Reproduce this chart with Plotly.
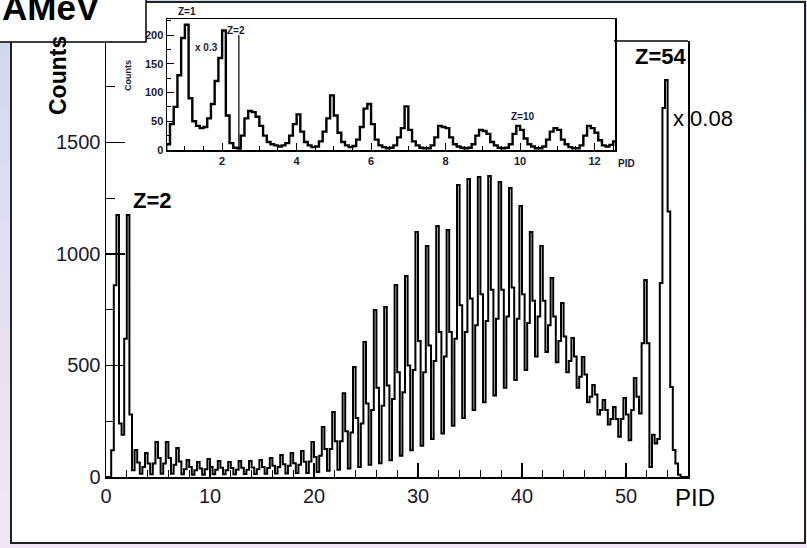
import plotly.graph_objects as go

W, H = 807, 548

# ---------------- data ----------------
main_bin_start = 0.0
main_bin_width = 0.25
main_counts = [
    0, 0, 120, 860,          # 0-1
    1175, 240, 190, 620,     # 1-2
    1175, 280, 30, 121,      # 2-3
    65, 15, 45, 108,         # 3-4
    60, 12, 60, 157,         # 4-5
    85, 15, 60, 157,         # 5-6
    85, 15, 55, 130,         # 6-7
    70, 12, 35, 76,          # 7-8
    45, 10, 30, 67,          # 8-9
    38, 10, 35, 81,          # 9-10
    45, 12, 32, 72,          # 10-11
    42, 12, 30, 67,          # 11-12
    40, 12, 32, 72,          # 12-13
    42, 14, 33, 72,          # 13-14
    43, 14, 35, 76,          # 14-15
    45, 15, 40, 85,          # 15-16
    50, 16, 45, 99,          # 16-17
    57, 16, 50, 108,         # 17-18
    62, 18, 55, 117,         # 18-19
    68, 18, 70, 157,         # 19-20
    90, 22, 95, 224,         # 20-21
    125, 28, 125, 291,       # 21-22
    160, 32, 160, 376,       # 22-23
    205, 38, 200, 493,       # 23-24
    265, 45, 240, 605,       # 24-25
    330, 55, 300, 749,       # 25-26
    400, 62, 320, 762,       # 26-27
    410, 75, 350, 861,       # 27-28
    470, 95, 380, 901,       # 28-29
    500, 120, 480, 1099,     # 29-30
    610, 140, 470, 1036,     # 30-31
    590, 170, 520, 1126,     # 31-32
    650, 195, 540, 1108,     # 32-33
    650, 230, 620, 1309,     # 33-34
    770, 265, 650, 1336,     # 34-35
    800, 300, 680, 1345,     # 35-36
    820, 335, 700, 1350,     # 36-37
    840, 365, 710, 1323,     # 37-38
    840, 400, 720, 1296,     # 38-39
    850, 435, 710, 1215,     # 39-40
    820, 480, 690, 1099,     # 40-41
    790, 540, 720, 1036,     # 41-42
    790, 560, 680, 892,      # 42-43
    720, 515, 610, 780,      # 43-44
    630, 470, 520, 623,      # 44-45
    540, 400, 450, 538,      # 45-46
    460, 335, 360, 413,      # 46-47
    370, 280, 300, 345,      # 47-48
    300, 235, 260, 314,      # 48-49
    260, 180, 260, 354,      # 49-50
    280, 165, 300, 444,      # 50-51
    360, 285, 600, 883,      # 51-52
    600, 45, 190, 150,       # 52-53
    170, 870, 1655, 1780,    # 53-54
    1190, 404, 121, 60,      # 54-55
    10, 0, 0, 0,             # 55-56
]

inset_bin_start = 0.5
inset_bin_width = 0.1
inset_counts = [
    10, 45, 75, 130, 195, 218, 90, 50, 42, 38,      # 0.5-1.4
    40, 55, 80, 120, 160, 208, 60, 12, 4, 3,        # 1.5-2.4
    25, 55, 68, 66, 58, 42, 25, 14, 10, 8,          # 2.5-3.4
    6, 8, 12, 25, 45, 62, 32, 14, 8, 5,             # 3.5-4.4
    6, 15, 32, 55, 95, 60, 30, 14, 8, 5,            # 4.5-5.4
    7, 18, 40, 72, 80, 45, 18, 8, 5, 3,             # 5.5-6.4
    4, 8, 22, 38, 76, 35, 15, 8, 4, 3,              # 6.5-7.4
    3, 8, 22, 42, 40, 38, 22, 10, 6, 4,             # 7.5-8.4
    3, 4, 10, 25, 35, 33, 28, 14, 8, 4,             # 8.5-9.4
    3, 4, 10, 28, 42, 35, 20, 10, 6, 3,             # 9.5-10.4
    3, 6, 18, 32, 38, 35, 18, 10, 5, 3,             # 10.5-11.4
    3, 8, 25, 42, 38, 30, 17, 8, 6, 9,              # 11.5-12.4
    15,                                             # 12.5
]

main_x_ticks = [0, 10, 20, 30, 40, 50]
main_y_ticks = [0, 500, 1000, 1500]
inset_x_ticks = [2, 4, 6, 8, 10, 12]
inset_y_ticks = [0, 50, 100, 150, 200]
inset_cut_pid = 2.45
inset_cut_top = 200


def step_xy(start, width, counts):
    xs = [start] + [start + i * width for i in range(len(counts) + 1)]
    ys = [0] + list(counts) + [counts[-1]]
    return xs, ys


def px(x):
    return x / W


def py(y):
    return 1 - y / H


FONT = "Liberation Sans"
LBL = "#1a1a30"

fig = go.Figure()

mx, my = step_xy(main_bin_start, main_bin_width, main_counts)
fig.add_trace(go.Scatter(x=mx, y=my, mode="lines", line=dict(shape="hv", color="black", width=2.0),
                         xaxis="x", yaxis="y", showlegend=False, hoverinfo="skip"))

ix, iy = step_xy(inset_bin_start, inset_bin_width, inset_counts)
fig.add_trace(go.Scatter(x=ix, y=iy, mode="lines", line=dict(shape="hv", color="black", width=2.4),
                         xaxis="x2", yaxis="y2", showlegend=False, hoverinfo="skip"))
fig.add_trace(go.Scatter(x=[inset_cut_pid, inset_cut_pid], y=[0, inset_cut_top], mode="lines",
                         line=dict(color="black", width=1.2), xaxis="x2", yaxis="y2",
                         showlegend=False, hoverinfo="skip"))

# background gradient bands
band_cols = ["#d0d8ee", "#d4d9ef", "#d9dbf0", "#dddcf1", "#e1ddf2", "#e5dff3",
             "#e9e1f3", "#ece3f4", "#eee5f4", "#f0e7f5"]
shapes = []
nb = len(band_cols)
for i, c in enumerate(band_cols):
    shapes.append(dict(type="rect", xref="paper", yref="paper", x0=0, x1=1,
                       y0=1 - (i + 1) / nb, y1=1 - i / nb, fillcolor=c, line_width=0, layer="below"))
# white canvas frame
shapes.append(dict(type="rect", xref="paper", yref="paper", x0=px(11), x1=px(805), y0=py(543), y1=py(2),
                   fillcolor="white", line=dict(color="#222", width=2), layer="below"))
# visible piece of main frame top
shapes.append(dict(type="line", xref="paper", yref="paper", x0=px(614), x1=px(688), y0=py(41), y1=py(41),
                   line=dict(color="black", width=1.5), layer="above"))
# AMeV box
shapes.append(dict(type="rect", xref="paper", yref="paper", x0=px(-2), x1=px(146), y0=py(42), y1=py(-2),
                   fillcolor="white", line=dict(color="black", width=1.5), layer="above"))

ann = []


def add_text(t, x, y, size, bold=False, angle=0, color="black", xanchor="center"):
    ann.append(dict(text=t, x=px(x), y=py(y), xref="paper", yref="paper", showarrow=False,
                    xanchor=xanchor, yanchor="middle", textangle=angle,
                    font=dict(family=FONT, size=size, color=color, weight="bold" if bold else "normal")))


add_text("AMeV", 102, 7, 35, bold=True, xanchor="right")
add_text("Counts", 58, 76, 23, bold=True, angle=-90)
add_text("PID", 695, 498, 24)
add_text("Z=2", 152, 200, 22, bold=True)
add_text("Z=54", 661, 57, 22, bold=True)
add_text("x 0.08", 703, 118, 22)
# inset texts
add_text("Counts", 128, 76, 9, bold=True, angle=-90, color=LBL)
add_text("PID", 626, 163, 10, bold=True, color=LBL)
add_text("Z=1", 187, 12, 10, bold=True, color=LBL)
add_text("Z=2", 236, 31, 10, bold=True, color=LBL)
add_text("x 0.3", 206, 47, 10, bold=True, color=LBL)
add_text("Z=10", 523, 117, 10, bold=True, color=LBL)

fig.update_layout(
    width=W, height=H, margin=dict(l=0, r=0, t=0, b=0, autoexpand=False),
    paper_bgcolor="#e4e0f2", plot_bgcolor="rgba(0,0,0,0)",
    shapes=shapes, annotations=ann, showlegend=False,
    xaxis=dict(domain=[px(106), px(688)], range=[0, 55.96], anchor="y", automargin=False,
               showline=True, linecolor="black", linewidth=1.5, mirror=False,
               ticks="inside", ticklen=14, tickwidth=1.2, tickcolor="black",
               tickvals=main_x_ticks, ticktext=[str(v) for v in main_x_ticks],
               minor=dict(ticks="inside", ticklen=7, tickwidth=1.2, tickcolor="black", dtick=2, tick0=0),
               showgrid=False, zeroline=False,
               tickfont=dict(family=FONT, size=20, color=LBL)),
    yaxis=dict(domain=[py(477), py(41)], range=[0, 1955], anchor="x", automargin=False,
               showline=True, linecolor="black", linewidth=1.5, mirror=True,
               ticks="inside", ticklen=19, tickwidth=1.2, tickcolor="black",
               tickvals=main_y_ticks, ticktext=[str(v) for v in main_y_ticks],
               minor=dict(ticks="inside", ticklen=9, tickwidth=1.2, tickcolor="black", dtick=250, tick0=0),
               showgrid=False, zeroline=False,
               tickfont=dict(family=FONT, size=20, color=LBL)),
    xaxis2=dict(domain=[px(167), px(615)], range=[0.52, 12.55], anchor="y2", automargin=False,
                showline=True, linecolor="black", linewidth=1.5, mirror=True,
                ticks="inside", ticklen=7, tickwidth=1, tickcolor="black",
                tickvals=inset_x_ticks, ticktext=[str(v) for v in inset_x_ticks],
                minor=dict(ticks="inside", ticklen=4, tickwidth=1, tickcolor="black", dtick=0.5, tick0=0),
                showgrid=False, zeroline=False,
                tickfont=dict(family=FONT, size=11, color=LBL, weight="bold")),
    yaxis2=dict(domain=[py(150), py(19)], range=[0, 228], anchor="x2", automargin=False,
                showline=True, linecolor="black", linewidth=1.5, mirror=True,
                ticks="inside", ticklen=7, tickwidth=1, tickcolor="black",
                tickvals=inset_y_ticks, ticktext=[str(v) for v in inset_y_ticks],
                minor=dict(ticks="inside", ticklen=4, tickwidth=1, tickcolor="black", dtick=25, tick0=0),
                showgrid=False, zeroline=False,
                tickfont=dict(family=FONT, size=11, color=LBL, weight="bold")),
)

fig.write_html("out.html", config={"displayModeBar": False, "staticPlot": True})

# remove the default page margin so the figure sits at the window's top-left corner
with open("out.html", "r", encoding="utf-8") as f:
    html = f.read()
css = ("<style>html,body{margin:0;padding:0;overflow:hidden;width:807px;height:548px;}"
       "body>div{width:807px;height:548px;overflow:hidden;}</style>")
html = html.replace("<head>", "<head>" + css, 1)
with open("out.html", "w", encoding="utf-8") as f:
    f.write(html)
